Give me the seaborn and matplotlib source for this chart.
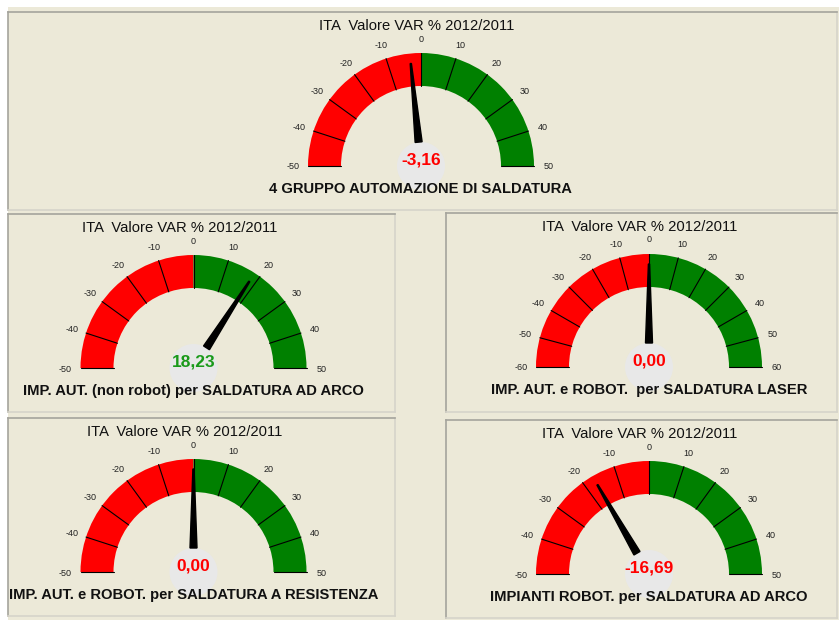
import numpy as np
import matplotlib
matplotlib.use("Agg")
import matplotlib.pyplot as plt
from matplotlib.patches import Wedge, Circle, Rectangle
import seaborn as sns

# gauge data
titles = ["ITA  Valore VAR % 2012/2011"] * 5
labels = ["4 GRUPPO AUTOMAZIONE DI SALDATURA",
          "IMP. AUT. (non robot) per SALDATURA AD ARCO",
          "IMP. AUT. e ROBOT.  per SALDATURA LASER",
          "IMP. AUT. e ROBOT. per SALDATURA A RESISTENZA",
          "IMPIANTI ROBOT. per SALDATURA AD ARCO"]
values = [-3.16, 18.23, 0.00, 0.00, -16.69]
limits = [50, 50, 60, 50, 50]
tick_step = 10

sns.set_theme(style="white")
plt.rcParams["font.family"] = ["Liberation Sans", "DejaVu Sans"]

W, H = 839, 620
BG = "#ECE9D8"
RED = "#FF0000"
GREEN = "#008000"

# panel boxes (x0, y0, x1, y1), gauge centre, title x, label x  -- pixel layout
panels = [
    ((8, 12, 837, 210), (421, 166), 417, 420),
    ((8, 214, 395, 412), (193.5, 368), 180, 193),
    ((446, 213, 837, 412), (649, 367), 640, 649),
    ((8, 418, 395, 616), (193.5, 572), 185, 194),
    ((446, 420, 837, 618), (649, 574), 640, 649),
]

R_OUT, R_IN, R_LAB = 113, 80, 128

fig = plt.figure(figsize=(W / 100, H / 100), dpi=100, facecolor="white")
fig.add_artist(Rectangle((8 / W, 0), 1 - 8 / W, 1 - 7 / H, transform=fig.transFigure,
                         facecolor=BG, edgecolor="none", zorder=0))


def angle(v, vmax):
    return 90 - v / vmax * 90


for i, ((x0, y0, x1, y1), (cx, cy), tx, lx) in enumerate(panels):
    ax = fig.add_axes([x0 / W, 1 - y1 / H, (x1 - x0) / W, (y1 - y0) / H])
    ax.set_facecolor(BG)
    ax.set_xlim(x0 - cx, x1 - cx)
    ax.set_ylim(cy - y1, cy - y0)
    ax.set_xticks([])
    ax.set_yticks([])
    for s in ["top", "left"]:
        ax.spines[s].set_color("#A5A49C")
        ax.spines[s].set_linewidth(1.2)
    for s in ["bottom", "right"]:
        ax.spines[s].set_color("#D6D4CA")
        ax.spines[s].set_linewidth(1.2)

    vmax = limits[i]
    ax.add_patch(Wedge((0, 0), R_OUT, 90, 180, width=R_OUT - R_IN, facecolor=RED, edgecolor="none"))
    ax.add_patch(Wedge((0, 0), R_OUT, 0, 90, width=R_OUT - R_IN, facecolor=GREEN, edgecolor="none"))

    ticks = np.arange(-vmax, vmax + 1, tick_step)
    for t in ticks:
        a = np.radians(angle(t, vmax))
        ax.plot([R_IN * np.cos(a), R_OUT * np.cos(a)], [R_IN * np.sin(a), R_OUT * np.sin(a)],
                color="black", lw=0.8)
        ax.text(R_LAB * np.cos(a), R_LAB * np.sin(a) - 1, f"{t:d}", fontsize=6.5,
                ha="center", va="center", color="#222222")

    # centre disc and needle
    ax.add_patch(Circle((0, 0), 24, facecolor="#E8E8E8", edgecolor="none", zorder=3))
    a = np.radians(angle(values[i], vmax))
    d = np.array([np.cos(a), np.sin(a)])
    n = np.array([-np.sin(a), np.cos(a)])
    base = d * 24
    tip = d * 103
    pts = np.array([base + n * 3.5, tip + n * 0.6, tip - n * 0.6, base - n * 3.5])
    ax.fill(pts[:, 0], pts[:, 1], color="black", zorder=4)

    col = "#1A9A1A" if values[i] > 0 else RED
    ax.text(0, 6, f"{values[i]:.2f}".replace(".", ","), fontsize=12.5, fontweight="bold",
            color=col, ha="center", va="center", zorder=5)

    ax.text(tx - cx, 140, titles[i], fontsize=10.6, ha="center", va="center", color="#111111")
    ax.text(lx - cx, -23, labels[i], fontsize=10.6, fontweight="bold", ha="center", va="center",
            color="#111111", clip_on=False)

fig.savefig("out.png", dpi=100, facecolor="white")
